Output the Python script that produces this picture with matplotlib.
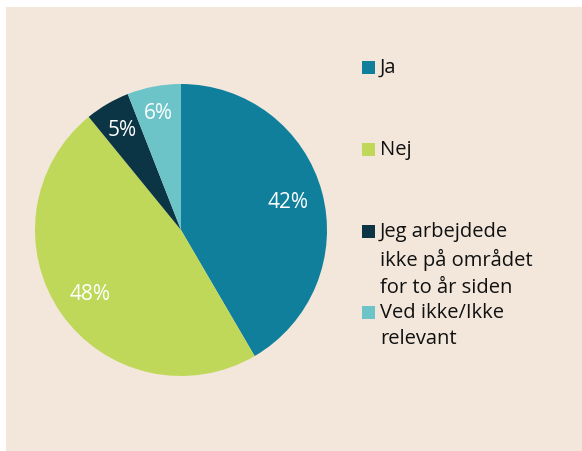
import matplotlib
matplotlib.use('Agg')
import matplotlib.pyplot as plt
from matplotlib.patches import Rectangle

# answers and shares (percent)
labels = ['Ja', 'Nej', 'Jeg arbejdede\nikke på området\nfor to år siden', 'Ved ikke/Ikke\nrelevant']
values = [42, 48, 5, 6]
colors = ['#0f7f9c', '#bfd85a', '#0b3445', '#6cc4c9']

plt.rcParams['font.family'] = ['Open Sans', 'DejaVu Sans']

W, H = 582, 452
fig = plt.figure(figsize=(W / 100, H / 100), dpi=100, facecolor='white')

# beige card behind everything
fig.patches.append(Rectangle((6 / W, 0), 1, 1 - 8 / H, transform=fig.transFigure,
                             facecolor='#f3e7db', edgecolor='none', zorder=-5))

# pie: centre (181, 231) px, radius 146 px
cx, cy, r = 181, H - 231, 146
ax = fig.add_axes([(cx - r) / W, (cy - r) / H, 2 * r / W, 2 * r / H])
ax.set_facecolor('none')
wedges, texts, autotexts = ax.pie(values, colors=colors, startangle=90, counterclock=False,
                                  autopct=lambda p: f'{p * sum(values) / 100:.0f}%',
                                  pctdistance=0.76, radius=1,
                                  wedgeprops=dict(linewidth=0),
                                  textprops=dict(color='white', fontsize=15))
# nudge the two thin slices' labels a little outward
for t, d in zip(autotexts, [0.76, 0.76, 0.80, 0.82]):
    x, y = t.get_position()
    t.set_position((x * d / 0.76, y * d / 0.76))
ax.set_xlim(-1, 1)
ax.set_ylim(-1, 1)
ax.set_aspect('equal')
ax.axis('off')

# legend drawn by hand so the big gaps between entries match
entry_y = [68, 150, 232, 313]
for lab, col, y in zip(labels, colors, entry_y):
    fig.patches.append(Rectangle((362 / W, 1 - (y + 6.5) / H), 13 / W, 13 / H,
                                 transform=fig.transFigure, facecolor=col, edgecolor='none'))
    fig.text(380 / W, 1 - (y - 10) / H, lab, fontsize=14.5, va='top', ha='left',
             color='#111111', linespacing=1.42)

fig.savefig('out.png', dpi=100, facecolor=fig.get_facecolor())
